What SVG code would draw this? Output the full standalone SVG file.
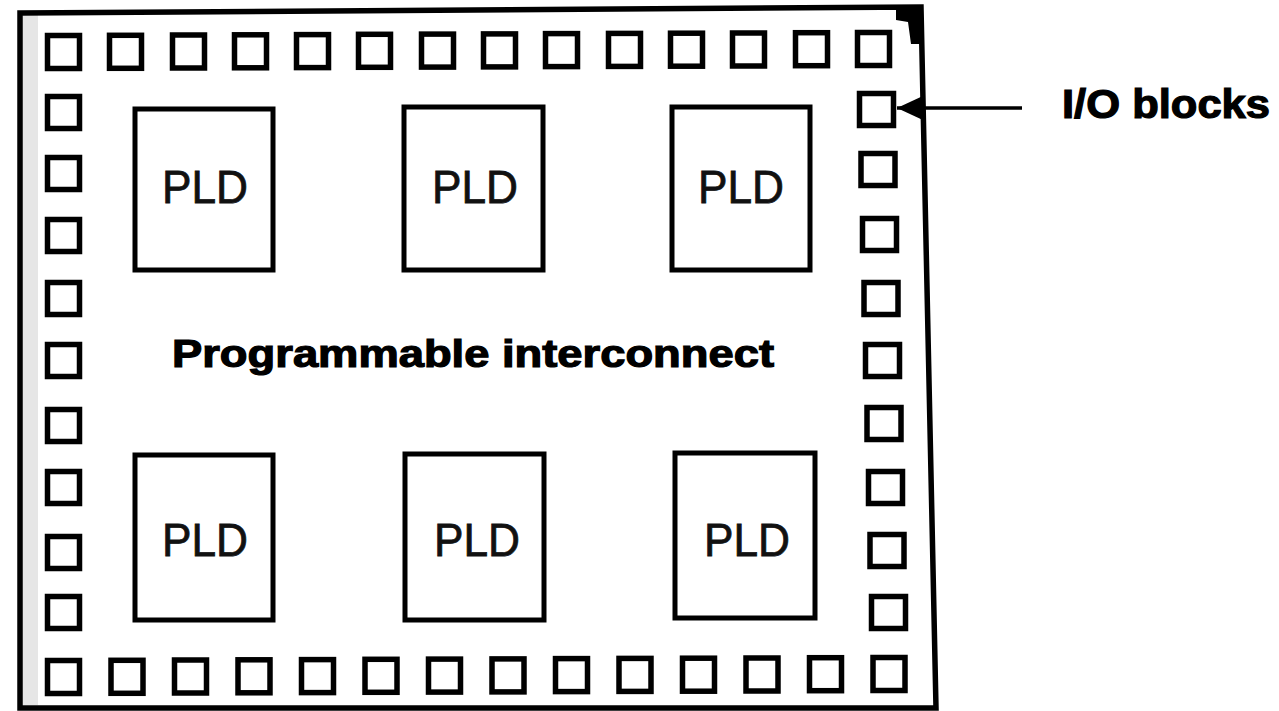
<svg xmlns="http://www.w3.org/2000/svg" width="1279" height="711" viewBox="0 0 1279 711">
<style>
.io{fill:#fff;stroke:#000;stroke-width:5.5}
.pld{fill:#fff;stroke:#000;stroke-width:5}
.pt{font-family:"Liberation Sans",Arial,sans-serif;font-size:46px;fill:#111;stroke:#111;stroke-width:0.8;text-anchor:middle}
.bt{font-family:"Liberation Sans",Arial,sans-serif;font-weight:bold;fill:#000;stroke:#000;stroke-width:1.2}
.conn{stroke:#000;stroke-width:3.5;fill:none}
</style>
<defs>
<marker id="ah" markerUnits="userSpaceOnUse" markerWidth="28" markerHeight="26" refX="28" refY="13" orient="auto">
<path d="M0,0 L28,13 L0,26 Z" fill="#000"/>
</marker>
</defs>
<rect width="1279" height="711" fill="#fff"/>
<g id="frame">
<rect x="22" y="15" width="16" height="690" fill="#e6e6e6"/>
<polygon points="20,13 921,7 936,708 20,708" fill="none" stroke="#000" stroke-width="5.5"/>
<polygon points="896,7 921,6 922,44 911,44 908,22 896,20" fill="#000"/>
</g>
<g id="io-blocks">
<rect class="io" x="47.5" y="35.5" width="32" height="33"/>
<rect class="io" x="109.5" y="35.3" width="32" height="33"/>
<rect class="io" x="172.5" y="35" width="32" height="33"/>
<rect class="io" x="234.5" y="34.8" width="32" height="33"/>
<rect class="io" x="296.5" y="34.6" width="32" height="33"/>
<rect class="io" x="358.5" y="34.3" width="32" height="33"/>
<rect class="io" x="421.5" y="34.1" width="32" height="33"/>
<rect class="io" x="483.5" y="33.9" width="32" height="33"/>
<rect class="io" x="545.5" y="33.6" width="32" height="33"/>
<rect class="io" x="608.5" y="33.4" width="32" height="33"/>
<rect class="io" x="670.5" y="33.2" width="32" height="33"/>
<rect class="io" x="732.5" y="33" width="32" height="33"/>
<rect class="io" x="795.5" y="32.7" width="32" height="33"/>
<rect class="io" x="857.5" y="32.5" width="32" height="33"/>
<rect class="io" x="47.5" y="660.5" width="32" height="33"/>
<rect class="io" x="111" y="660.3" width="32" height="33"/>
<rect class="io" x="174.5" y="660" width="32" height="33"/>
<rect class="io" x="238" y="659.8" width="32" height="33"/>
<rect class="io" x="301.5" y="659.6" width="32" height="33"/>
<rect class="io" x="365" y="659.3" width="32" height="33"/>
<rect class="io" x="428.5" y="659.1" width="32" height="33"/>
<rect class="io" x="492" y="658.9" width="32" height="33"/>
<rect class="io" x="555.5" y="658.6" width="32" height="33"/>
<rect class="io" x="619" y="658.4" width="32" height="33"/>
<rect class="io" x="682.5" y="658.2" width="32" height="33"/>
<rect class="io" x="746" y="658" width="32" height="33"/>
<rect class="io" x="809.5" y="657.7" width="32" height="33"/>
<rect class="io" x="873" y="657.5" width="32" height="33"/>
<rect class="io" x="47.5" y="96.5" width="32" height="32"/>
<rect class="io" x="47.5" y="157.5" width="32" height="32"/>
<rect class="io" x="47.5" y="219.5" width="32" height="32"/>
<rect class="io" x="47.5" y="282.5" width="32" height="32"/>
<rect class="io" x="47.5" y="344.5" width="32" height="32"/>
<rect class="io" x="47.5" y="409.5" width="32" height="32"/>
<rect class="io" x="47.5" y="471.5" width="32" height="32"/>
<rect class="io" x="47.5" y="536.5" width="32" height="32"/>
<rect class="io" x="47.5" y="596.5" width="32" height="32"/>
<rect class="io" x="859.5" y="93.5" width="34" height="32"/>
<rect class="io" x="861" y="153.5" width="34" height="32"/>
<rect class="io" x="862.5" y="218.5" width="34" height="32"/>
<rect class="io" x="864" y="282.5" width="34" height="32"/>
<rect class="io" x="865.5" y="344.5" width="34" height="32"/>
<rect class="io" x="867" y="407.5" width="34" height="32"/>
<rect class="io" x="868.5" y="471.5" width="34" height="32"/>
<rect class="io" x="870" y="534.5" width="34" height="32"/>
<rect class="io" x="871.5" y="596.5" width="34" height="32"/>
</g>
<g id="pld1"><rect class="pld" x="135" y="109" width="138" height="161"/><text class="pt" x="205" y="203" textLength="86" lengthAdjust="spacingAndGlyphs">PLD</text></g>
<g id="pld2"><rect class="pld" x="404" y="107" width="139" height="163"/><text class="pt" x="475" y="203" textLength="86" lengthAdjust="spacingAndGlyphs">PLD</text></g>
<g id="pld3"><rect class="pld" x="672" y="107" width="138" height="163"/><text class="pt" x="741" y="203" textLength="86" lengthAdjust="spacingAndGlyphs">PLD</text></g>
<g id="pld4"><rect class="pld" x="135" y="455" width="138" height="165"/><text class="pt" x="205" y="556" textLength="86" lengthAdjust="spacingAndGlyphs">PLD</text></g>
<g id="pld5"><rect class="pld" x="405" y="454" width="139" height="166"/><text class="pt" x="477" y="556" textLength="86" lengthAdjust="spacingAndGlyphs">PLD</text></g>
<g id="pld6"><rect class="pld" x="675" y="453" width="140" height="165"/><text class="pt" x="747" y="556" textLength="86" lengthAdjust="spacingAndGlyphs">PLD</text></g>
<g id="interconnect"><text class="bt" x="172" y="367" font-size="38" textLength="602" lengthAdjust="spacingAndGlyphs">Programmable interconnect</text></g>
<g id="label-io"><text class="bt" x="1062" y="118" font-size="40" textLength="208" lengthAdjust="spacingAndGlyphs">I/O blocks</text></g>
<g id="connectors">
<line class="conn" x1="1022" y1="108" x2="897" y2="108" marker-end="url(#ah)"/>
</g>
</svg>
